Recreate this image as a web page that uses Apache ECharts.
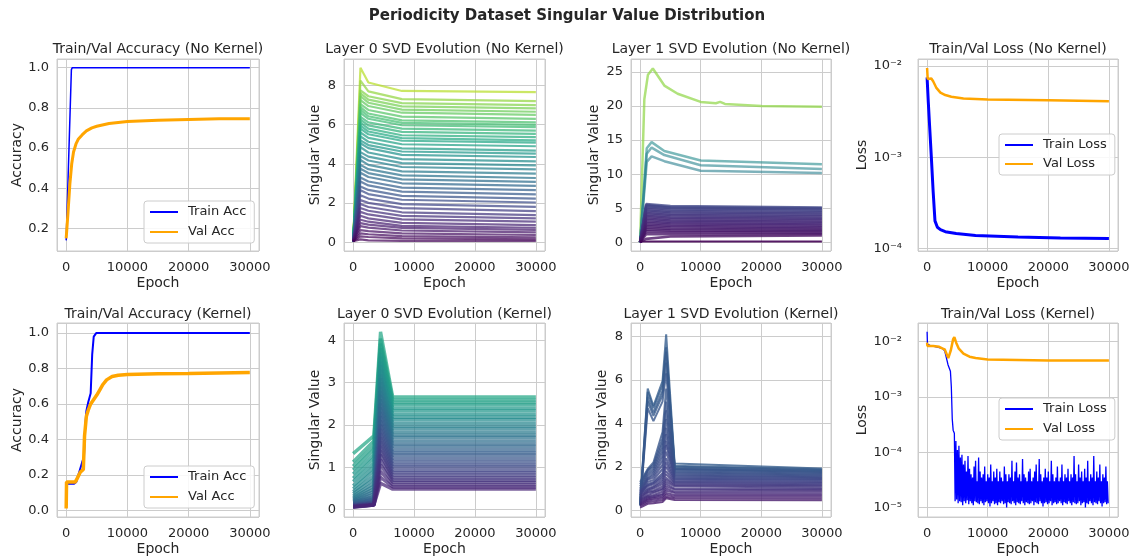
<!DOCTYPE html>
<html>
<head>
<meta charset="utf-8">
<title>Periodicity Dataset Singular Value Distribution</title>
<script src="https://cdn.jsdelivr.net/npm/echarts@6/dist/echarts.min.js"></script>
<style>
  html, body { margin: 0; padding: 0; background: #fff; }
  #main { width: 1134px; height: 560px; }
</style>
</head>
<body>
<div id="main"></div>
<script>
// ---------- values ----------

// accuracy, no kernel
const trainAccNKEpoch = [0, 850, 1000, 30000];
const trainAccNKVal = [0.14, 0.99, 1.0, 1.0];
const valAccNKEpoch = [0, 300, 600, 900, 1200, 1600, 2000, 2600, 3300, 4200, 5000, 7000, 10000, 15000, 20000, 25000, 30000];
const valAccNKVal = [0.15, 0.28, 0.42, 0.52, 0.58, 0.62, 0.645, 0.665, 0.685, 0.70, 0.708, 0.722, 0.732, 0.738, 0.742, 0.745, 0.745];

// accuracy, kernel
const trainAccKEpoch = [0, 1300, 1450, 1650, 2000, 2600, 2900, 3100, 3300, 3600, 4000, 4250, 4500, 4900, 30000];
const trainAccKVal = [0.15, 0.15, 0.14, 0.16, 0.2, 0.27, 0.3, 0.47, 0.56, 0.61, 0.66, 0.88, 0.98, 1.0, 1.0];
const valAccKEpoch = [0, 60, 1500, 1800, 2300, 2800, 3000, 3300, 3600, 4000, 4500, 5000, 5500, 6000, 6600, 7500, 8500, 10000, 15000, 20000, 25000, 30000];
const valAccKVal = [0.01, 0.16, 0.16, 0.18, 0.215, 0.23, 0.42, 0.53, 0.565, 0.6, 0.625, 0.65, 0.68, 0.71, 0.736, 0.755, 0.762, 0.766, 0.77, 0.772, 0.775, 0.777];

// loss, no kernel
const trainLossNKEpoch = [0, 200, 450, 700, 1000, 1300, 1700, 2200, 3000, 4800, 8000, 15000, 22000, 30000];
const trainLossNKVal = [0.0075, 0.004, 0.002, 0.001, 0.00042, 0.0002, 0.00017, 0.00016, 0.000152, 0.000145, 0.000138, 0.000133, 0.00013, 0.000128];
const valLossNKEpoch = [0, 100, 300, 700, 1000, 1500, 2200, 3000, 4000, 6000, 10000, 20000, 30000];
const valLossNKVal = [0.0095, 0.0072, 0.007, 0.0073, 0.0068, 0.0058, 0.0051, 0.0048, 0.0046, 0.0044, 0.0043, 0.0042, 0.0041];

// loss, kernel
const trainLossKEpoch = [0, 60, 500, 1500, 2500, 2900, 3450, 3850, 4000, 4150, 4300];
const trainLossKVal = [0.015, 0.0088, 0.0085, 0.008, 0.0075, 0.0068, 0.0038, 0.0029, 0.0015, 0.0004, 0.00025];
// noisy tail: peaks every 250 epochs from 4500, troughs every 250 epochs from 4625
const trainLossKHigh = [
  2.2e-4, 1.6e-4, 1.1e-4, 1.3e-4, 8e-5, 9e-5, 6e-5, 7e-5, 4.5e-5, 8.5e-5,
  5e-5, 4e-5, 3.5e-5, 5.5e-5, 7e-5, 3e-5, 8e-5, 4.5e-5, 3.5e-5, 4e-5,
  5.5e-5, 3e-5, 4e-5, 3.5e-5, 6e-5, 3e-5, 4.5e-5, 3.5e-5, 5e-5, 3e-5,
  4.5e-5, 3.5e-5, 3e-5, 5.5e-5, 4e-5, 3e-5, 4e-5, 3.5e-5, 7e-5, 3e-5,
  4.5e-5, 6.5e-5, 3.5e-5, 4e-5, 3e-5, 7.5e-5, 4e-5, 3.5e-5, 3e-5, 4.5e-5,
  5e-5, 3e-5, 3.5e-5, 4.5e-5, 6e-5, 3e-5, 7.5e-5, 4e-5, 3e-5, 3.5e-5,
  5e-5, 3.5e-5, 4.5e-5, 3e-5, 7e-5, 4e-5, 3e-5, 3.5e-5, 5.5e-5, 3e-5,
  3.5e-5, 6e-5, 3e-5, 4e-5, 3.5e-5, 5e-5, 3e-5, 4e-5, 3.5e-5, 8.5e-5,
  4e-5, 3e-5, 6e-5, 3.5e-5, 4.5e-5, 3e-5, 5e-5, 3.5e-5, 7e-5, 3e-5,
  4e-5, 3.5e-5, 8.5e-5, 3e-5, 4.5e-5, 3.5e-5, 6e-5, 3e-5, 4e-5, 3.5e-5, 5.5e-5, 3e-5];
const trainLossKLow = [
  1.3e-5, 1.4e-5, 1.2e-5, 1.3e-5, 1.25e-5, 1.1e-5, 1.3e-5, 1.2e-5, 1.35e-5, 1.15e-5,
  1.3e-5, 1.2e-5, 1.1e-5, 1.3e-5, 1.25e-5, 1.2e-5, 1.15e-5, 1.3e-5, 1.2e-5, 1.1e-5,
  1.25e-5, 1.3e-5, 1.2e-5, 1.05e-5, 1.2e-5, 1.3e-5, 1.15e-5, 1.2e-5, 1.1e-5, 1.25e-5,
  1.2e-5, 1.3e-5, 1.15e-5, 1.2e-5, 1.0e-5, 1.25e-5, 1.2e-5, 1.15e-5, 1.3e-5, 1.2e-5,
  1.1e-5, 1.25e-5, 1.2e-5, 1.15e-5, 1.3e-5, 1.2e-5, 1.1e-5, 1.25e-5, 1.2e-5, 1.15e-5,
  1.2e-5, 1.3e-5, 1.1e-5, 1.25e-5, 1.2e-5, 1.15e-5, 1.3e-5, 1.2e-5, 1.05e-5, 1.2e-5,
  1.25e-5, 1.15e-5, 1.2e-5, 1.3e-5, 1.1e-5, 1.2e-5, 1.25e-5, 1.15e-5, 1.2e-5, 1.3e-5,
  1.2e-5, 1.1e-5, 1.25e-5, 1.2e-5, 1.15e-5, 1.3e-5, 1.2e-5, 1.1e-5, 1.25e-5, 1.2e-5,
  1.15e-5, 1.2e-5, 1.3e-5, 1.1e-5, 1.2e-5, 1.25e-5, 1.0e-5, 1.2e-5, 1.15e-5, 1.3e-5,
  1.2e-5, 1.1e-5, 1.25e-5, 1.2e-5, 1.15e-5, 1.3e-5, 1.2e-5, 1.05e-5, 1.2e-5, 1.25e-5, 1.15e-5, 1.2e-5];
const valLossKEpoch = [0, 60, 1000, 2000, 2500, 2900, 3200, 3500, 3900, 4300, 4500, 4800, 5200, 6000, 7000, 8000, 10000, 15000, 20000, 25000, 30000];
const valLossKVal = [0.0095, 0.0083, 0.0083, 0.008, 0.0075, 0.0072, 0.006, 0.005, 0.0068, 0.011, 0.012, 0.0095, 0.0075, 0.006, 0.0053, 0.005, 0.0047, 0.0046, 0.0045, 0.0045, 0.0045];

// layer 0 singular values, no kernel (epochs 0, 1200, 2500, 8000, 30000)
const l0nkEpoch = [0, 1200, 2500, 8000, 30000];
const l0nkStart = 0.05;
const l0nkPeak = [8.9, 8.25, 7.75, 7.6, 7.45, 7.25, 7.05, 6.9, 6.75, 6.6, 6.4, 6.25, 6.1, 5.95, 5.8, 5.6, 5.4, 5.2, 5.05, 4.85, 4.6, 4.4, 4.2, 3.95, 3.75, 3.55, 3.3, 3.1, 2.85, 2.65, 2.4, 2.15, 1.95, 1.75, 1.55, 1.35, 1.15, 0.98, 0.82, 0.62, 0.45, 0.3, 0.15];
const l0nkAt2500 = [8.15, 7.7, 7.45, 7.28, 7.12, 6.95, 6.75, 6.57, 6.43, 6.3, 6.12, 5.96, 5.8, 5.65, 5.51, 5.33, 5.13, 4.96, 4.8, 4.58, 4.37, 4.17, 3.95, 3.73, 3.53, 3.33, 3.1, 2.9, 2.67, 2.46, 2.23, 2.01, 1.8, 1.61, 1.42, 1.22, 1.05, 0.9, 0.75, 0.57, 0.41, 0.27, 0.1];
const l0nkAt8000 = [7.72, 7.3, 7.1, 6.93, 6.77, 6.61, 6.41, 6.22, 6.09, 5.97, 5.8, 5.63, 5.46, 5.31, 5.18, 5.0, 4.79, 4.63, 4.46, 4.24, 4.04, 3.84, 3.62, 3.41, 3.21, 3.01, 2.79, 2.58, 2.37, 2.17, 1.95, 1.74, 1.53, 1.35, 1.17, 0.99, 0.84, 0.73, 0.6, 0.45, 0.31, 0.2, 0.07];
const l0nkFinal = [7.66, 7.2, 7.0, 6.83, 6.66, 6.5, 6.3, 6.12, 5.99, 5.87, 5.7, 5.53, 5.36, 5.2, 5.08, 4.9, 4.68, 4.52, 4.35, 4.13, 3.92, 3.72, 3.5, 3.28, 3.08, 2.88, 2.66, 2.44, 2.23, 2.03, 1.81, 1.59, 1.39, 1.22, 1.05, 0.88, 0.74, 0.63, 0.51, 0.37, 0.25, 0.15, 0.07];

// layer 1 singular values, no kernel
const l1nkTopEpoch = [0, 700, 1300, 2100, 4000, 6200, 10000, 12500, 13200, 14000, 20000, 30000];
const l1nkTopVal = [0, 21, 24.6, 25.5, 23.0, 21.8, 20.6, 20.4, 20.6, 20.3, 20.0, 19.9];
const l1nkMidEpoch = [0, 1100, 1900, 4000, 10000, 30000];
const l1nkMidA = [0, 13.8, 14.7, 13.4, 12.0, 11.45];
const l1nkMidB = [0, 13.0, 13.9, 12.8, 11.3, 10.75];
const l1nkMidC = [0, 11.8, 12.6, 11.9, 10.5, 10.15];
const l1nkBandEpoch = [0, 1000, 5000, 30000];
const l1nkBandStart = 0.02;
const l1nkBandPeak = [5.6, 5.45, 5.3, 5.1, 4.9, 4.7, 4.5, 4.3, 4.1, 3.9, 3.7, 3.5, 3.3, 3.05, 2.85, 2.6, 2.4, 2.15, 1.9, 1.6, 1.2, 0.5];
const l1nkBandMid = [5.3, 5.15, 5.0, 4.8, 4.6, 4.4, 4.2, 4.0, 3.8, 3.6, 3.4, 3.2, 3.0, 2.8, 2.6, 2.4, 2.2, 1.95, 1.75, 1.5, 1.2, 0.85];
const l1nkBandFinal = [5.1, 4.97, 4.82, 4.63, 4.41, 4.22, 4.02, 3.83, 3.61, 3.44, 3.22, 3.01, 2.83, 2.62, 2.44, 2.21, 2.03, 1.82, 1.63, 1.42, 1.21, 1.0];
const l1nkLowEpoch = [0, 30000];
const l1nkLowVal = [0.1, 0.1];

// layer 0 singular values, kernel (epochs 0, 3400, 4500, 6500, 30000)
const l0kEpoch = [0, 3400, 4500, 6500, 30000];
const l0kStart = [1.32, 1.12, 1.02, 0.93, 0.84, 0.74, 0.66, 0.56, 0.49, 0.42, 0.37, 0.32, 0.28, 0.25, 0.22, 0.2, 0.18, 0.17, 0.15, 0.14, 0.13, 0.12, 0.11, 0.1, 0.1, 0.09, 0.09, 0.08, 0.08, 0.07, 0.07, 0.06, 0.06, 0.05];
const l0kPre = [1.74, 1.62, 1.51, 1.41, 1.3, 1.21, 1.1, 1.0, 0.91, 0.8, 0.71, 0.62, 0.55, 0.48, 0.42, 0.36, 0.31, 0.27, 0.24, 0.21, 0.19, 0.17, 0.16, 0.15, 0.14, 0.13, 0.13, 0.12, 0.12, 0.11, 0.11, 0.1, 0.1, 0.1];
const l0kPeak = [4.2, 4.04, 3.92, 3.81, 3.7, 3.6, 3.49, 3.4, 3.3, 3.19, 3.1, 3.0, 2.9, 2.8, 2.71, 2.6, 2.5, 2.41, 2.3, 2.2, 2.1, 2.0, 1.9, 1.8, 1.7, 1.6, 1.5, 1.4, 1.3, 1.18, 1.05, 0.9, 0.76, 0.62];
const l0kFinal = [2.66, 2.59, 2.53, 2.47, 2.39, 2.33, 2.25, 2.18, 2.12, 2.04, 1.97, 1.91, 1.83, 1.76, 1.7, 1.62, 1.55, 1.49, 1.41, 1.34, 1.28, 1.2, 1.13, 1.06, 1.0, 0.93, 0.87, 0.81, 0.75, 0.69, 0.64, 0.58, 0.53, 0.48];

// layer 1 singular values, kernel (epochs 0, 1260, 2200, 3700, 4300, 5700, 30000)
const l1kEpoch = [0, 1260, 2200, 3700, 4300, 5700, 30000];
const l1kStart = [0.3, 0.3, 0.25, 0.25, 0.2, 1.3, 1.2, 1.1, 1.0, 0.95, 0.9, 0.85, 0.8, 0.75, 0.7, 0.9, 0.85, 0.8, 0.7, 0.65, 0.6, 0.55, 0.5, 0.45, 0.4, 0.35, 0.3, 0.25, 0.2, 0.12];
const l1kA = [5.6, 5.45, 5.2, 5.0, 4.7, 1.9, 1.85, 1.8, 1.7, 1.6, 1.5, 1.45, 1.4, 1.3, 1.2, 1.15, 1.1, 1.0, 0.95, 0.9, 0.85, 0.8, 0.7, 0.65, 0.6, 0.55, 0.5, 0.45, 0.38, 0.3];
const l1kB = [4.8, 4.7, 4.5, 4.35, 4.1, 2.2, 2.1, 2.0, 1.9, 1.8, 1.7, 1.6, 1.5, 1.4, 1.3, 1.25, 1.2, 1.1, 1.05, 1.0, 0.9, 0.85, 0.8, 0.7, 0.65, 0.6, 0.55, 0.48, 0.4, 0.32];
const l1kC = [5.95, 5.75, 5.5, 5.3, 5.0, 3.6, 3.3, 3.1, 2.9, 2.7, 2.5, 2.3, 2.1, 1.9, 1.7, 1.6, 1.5, 1.4, 1.3, 1.2, 1.1, 1.0, 0.95, 0.85, 0.75, 0.7, 0.62, 0.55, 0.47, 0.38];
const l1kPeak = [8.1, 7.5, 7.3, 6.8, 6.3, 5.6, 5.0, 4.6, 4.2, 3.8, 3.5, 3.2, 3.0, 2.7, 2.4, 2.2, 2.0, 1.8, 1.65, 1.5, 1.4, 1.3, 1.2, 1.1, 1.0, 0.9, 0.8, 0.72, 0.62, 0.55];
const l1kSettle = [2.15, 2.05, 2.0, 1.95, 1.9, 1.9, 1.85, 1.8, 1.75, 1.7, 1.65, 1.6, 1.55, 1.5, 1.45, 1.4, 1.35, 1.3, 1.25, 1.2, 1.15, 1.1, 1.0, 0.95, 0.85, 0.8, 0.7, 0.62, 0.55, 0.47];
const l1kFinal = [1.92, 1.88, 1.85, 1.82, 1.79, 1.76, 1.72, 1.68, 1.64, 1.6, 1.56, 1.52, 1.48, 1.44, 1.4, 1.36, 1.3, 1.25, 1.2, 1.15, 1.1, 1.04, 0.98, 0.92, 0.86, 0.78, 0.7, 0.62, 0.54, 0.46];

const titles = [
  'Train/Val Accuracy (No Kernel)', 'Layer 0 SVD Evolution (No Kernel)', 'Layer 1 SVD Evolution (No Kernel)', 'Train/Val Loss (No Kernel)',
  'Train/Val Accuracy (Kernel)', 'Layer 0 SVD Evolution (Kernel)', 'Layer 1 SVD Evolution (Kernel)', 'Train/Val Loss (Kernel)'
];

// ---------- styling / layout ----------
const FONT = "'DejaVu Sans', sans-serif";
const TXT = '#262626';
const GRIDC = '#cccccc';
const colLeft = [57, 344, 631, 918];
const colWidth = [202, 201, 200, 200];
const rowTop = [59, 323];
const rowHeight = [192, 194];

const VIRIDIS = ['#440154', '#482475', '#414487', '#355f8d', '#2a788e', '#21918c', '#22a884', '#44bf70', '#7ad151', '#bddf26', '#fde725'];
function viridis(t) {
  t = Math.max(0, Math.min(1, t));
  const p = t * 10, i = Math.min(9, Math.floor(p)), f = p - i;
  const a = VIRIDIS[i], b = VIRIDIS[i + 1];
  const ch = (h, k) => parseInt(h.substr(1 + 2 * k, 2), 16);
  const c = [0, 1, 2].map(k => Math.round(ch(a, k) + (ch(b, k) - ch(a, k)) * f));
  return 'rgb(' + c.join(',') + ')';
}

function pairs(xs, ys) { return xs.map((x, i) => [x, ys[i]]); }

function line(idx, data, color, width, opacity, name) {
  return {
    type: 'line', name: name, xAxisIndex: idx, yAxisIndex: idx, data: data,
    symbol: 'none', showSymbol: false, silent: true, color: color,
    lineStyle: { color: color, width: width, opacity: opacity },
    emphasis: { disabled: true }
  };
}

// one line per singular value; cols holds one value list (or shared number) per epoch
function fan(idx, epochs, cols, scale, width, opacity) {
  const n = cols.find(c => Array.isArray(c)).length;
  const out = [];
  for (let i = 0; i < n; i++) {
    const data = epochs.map((e, j) => [e, typeof cols[j] === 'number' ? cols[j] : cols[j][i]]);
    const last = data[data.length - 1][1];
    out.push(line(idx, data, viridis(last / scale), width, opacity));
  }
  return out;
}

const SUP = { '-': '\u207B', '0': '\u2070', '1': '\u00B9', '2': '\u00B2', '3': '\u00B3', '4': '\u2074', '5': '\u2075', '6': '\u2076', '7': '\u2077', '8': '\u2078', '9': '\u2079' };
function logFmt(v) {
  const l = Math.log10(v), e = Math.round(l);
  if (Math.abs(l - e) > 1e-6) return '';
  return '10' + String(e).split('').map(c => SUP[c]).join('');
}
function stepFmt(step, digits) {
  return v => Math.abs(v / step - Math.round(v / step)) < 1e-6 ? v.toFixed(digits) : '';
}

const grids = [], xAxes = [], yAxes = [], titleOpts = [];
titleOpts.push({
  text: 'Periodicity Dataset Singular Value Distribution', left: 567, top: 9, padding: 0, textAlign: 'center',
  textStyle: { fontFamily: FONT, fontSize: 15, fontWeight: 'bold', color: TXT }
});

const yCfg = [
  { min: 0.087, max: 1.043, fmt: stepFmt(0.2, 1), name: 'Accuracy', gap: 33 },
  { min: -0.445, max: 9.35, fmt: stepFmt(2, 0), name: 'Singular Value', gap: 22 },
  { min: -1.28, max: 26.9, fmt: stepFmt(5, 0), name: 'Singular Value', gap: 30 },
  { log: true, min: 9.34e-5, max: 0.01194, name: 'Loss', gap: 43 },
  { min: -0.038, max: 1.057, fmt: stepFmt(0.2, 1), name: 'Accuracy', gap: 33 },
  { min: -0.18, max: 4.41, fmt: stepFmt(1, 0), name: 'Singular Value', gap: 22 },
  { min: -0.31, max: 8.62, fmt: stepFmt(2, 0), name: 'Singular Value', gap: 22 },
  { log: true, min: 6.76e-6, max: 0.0215, name: 'Loss', gap: 43 }
];

for (let i = 0; i < 8; i++) {
  const r = Math.floor(i / 4), c = i % 4;
  grids.push({
    left: colLeft[c], top: rowTop[r], width: colWidth[c], height: rowHeight[r],
    show: true, borderColor: GRIDC, borderWidth: 1, backgroundColor: '#fff', outerBoundsMode: 'none'
  });
  titleOpts.push({
    text: titles[i], left: colLeft[c] + colWidth[c] / 2, top: r === 0 ? 42 : 307, padding: 0, textAlign: 'center',
    textStyle: { fontFamily: FONT, fontSize: 14, fontWeight: 'normal', color: TXT }
  });
  xAxes.push({
    type: 'value', gridIndex: i, min: -1500, max: 31500, splitNumber: 3,
    axisLine: { show: false }, axisTick: { show: false },
    axisLabel: { color: TXT, fontFamily: FONT, fontSize: 13, margin: 10, formatter: v => (Math.abs(v % 10000) < 1e-6 ? String(v) : '') },
    splitLine: { show: true, lineStyle: { color: GRIDC, width: 1 } },
    name: 'Epoch', nameLocation: 'middle', nameGap: 25,
    nameTextStyle: { color: TXT, fontFamily: FONT, fontSize: 14 }
  });
  const y = yCfg[i];
  yAxes.push({
    type: y.log ? 'log' : 'value', logBase: 10, gridIndex: i, min: y.min, max: y.max, splitNumber: 5,
    axisLine: { show: false }, axisTick: { show: false },
    axisLabel: { color: TXT, fontFamily: FONT, fontSize: 13, margin: y.log ? 16 : 8, formatter: y.log ? logFmt : y.fmt },
    splitLine: { show: true, lineStyle: { color: GRIDC, width: 1 } },
    name: y.name, nameLocation: 'middle', nameGap: y.gap,
    nameTextStyle: { color: TXT, fontFamily: FONT, fontSize: 14 }
  });
}

// noisy tail of the kernel train loss
const trainLossKData = pairs(trainLossKEpoch, trainLossKVal);
trainLossKHigh.forEach((v, k) => {
  trainLossKData.push([4500 + 250 * k, v]);
  trainLossKData.push([4625 + 250 * k, trainLossKLow[k]]);
});

const BLUE = '#0000ff', ORANGE = '#ffa500';
const series = [].concat(
  line(0, pairs(trainAccNKEpoch, trainAccNKVal), BLUE, 1.5, 1, 'Train Acc'),
  line(0, pairs(valAccNKEpoch, valAccNKVal), ORANGE, 3, 1, 'Val Acc'),
  fan(1, l0nkEpoch, [l0nkStart, l0nkPeak, l0nkAt2500, l0nkAt8000, l0nkFinal], 8.6, 2.2, 0.72),
  line(2, pairs(l1nkTopEpoch, l1nkTopVal), viridis(19.9 / 24), 2.5, 0.7),
  line(2, pairs(l1nkMidEpoch, l1nkMidA), viridis(11.45 / 24), 2.5, 0.6),
  line(2, pairs(l1nkMidEpoch, l1nkMidB), viridis(10.75 / 24), 2.5, 0.6),
  line(2, pairs(l1nkMidEpoch, l1nkMidC), viridis(10.15 / 24), 2.5, 0.6),
  fan(2, l1nkBandEpoch, [l1nkBandStart, l1nkBandPeak, l1nkBandMid, l1nkBandFinal], 24, 2.6, 0.78),
  line(2, pairs(l1nkLowEpoch, l1nkLowVal), viridis(0), 2, 0.9),
  line(3, pairs(trainLossNKEpoch, trainLossNKVal), BLUE, 3, 1, 'Train Loss'),
  line(3, pairs(valLossNKEpoch, valLossNKVal), ORANGE, 2.5, 1, 'Val Loss'),
  line(4, pairs(trainAccKEpoch, trainAccKVal), BLUE, 2, 1, 'Train Acc'),
  line(4, pairs(valAccKEpoch, valAccKVal), ORANGE, 3.5, 1, 'Val Acc'),
  fan(5, l0kEpoch, [l0kStart, l0kPre, l0kPeak, l0kFinal, l0kFinal], 4.5, 3.4, 0.72),
  fan(6, l1kEpoch, [l1kStart, l1kA, l1kB, l1kC, l1kPeak, l1kSettle, l1kFinal], 6.5, 2, 0.8),
  line(7, trainLossKData, BLUE, 1.3, 1, 'Train Loss'),
  line(7, pairs(valLossKEpoch, valLossKVal), ORANGE, 2.5, 1, 'Val Loss')
);

function legend(left, top, names, gap) {
  return {
    left: left, top: top, orient: 'vertical', data: names, selectedMode: false,
    icon: 'rect', itemWidth: 28, itemHeight: 2, itemGap: gap, padding: [3, 8, 3, 6],
    backgroundColor: 'rgba(255,255,255,0.85)', borderColor: GRIDC, borderWidth: 1, borderRadius: 3,
    textStyle: { color: TXT, fontFamily: FONT, fontSize: 13, lineHeight: 16, padding: [0, 0, 0, 5] }
  };
}

const chart = echarts.init(document.getElementById('main'));
chart.setOption({
  animation: false,
  backgroundColor: '#fff',
  textStyle: { fontFamily: FONT },
  title: titleOpts,
  grid: grids,
  xAxis: xAxes,
  yAxis: yAxes,
  legend: [
    legend(144, 201, ['Train Acc', 'Val Acc'], 4),
    legend(999, 134, ['Train Loss', 'Val Loss'], 3),
    legend(144, 466, ['Train Acc', 'Val Acc'], 4),
    legend(999, 398, ['Train Loss', 'Val Loss'], 4)
  ],
  series: series
});
</script>
</body>
</html>
